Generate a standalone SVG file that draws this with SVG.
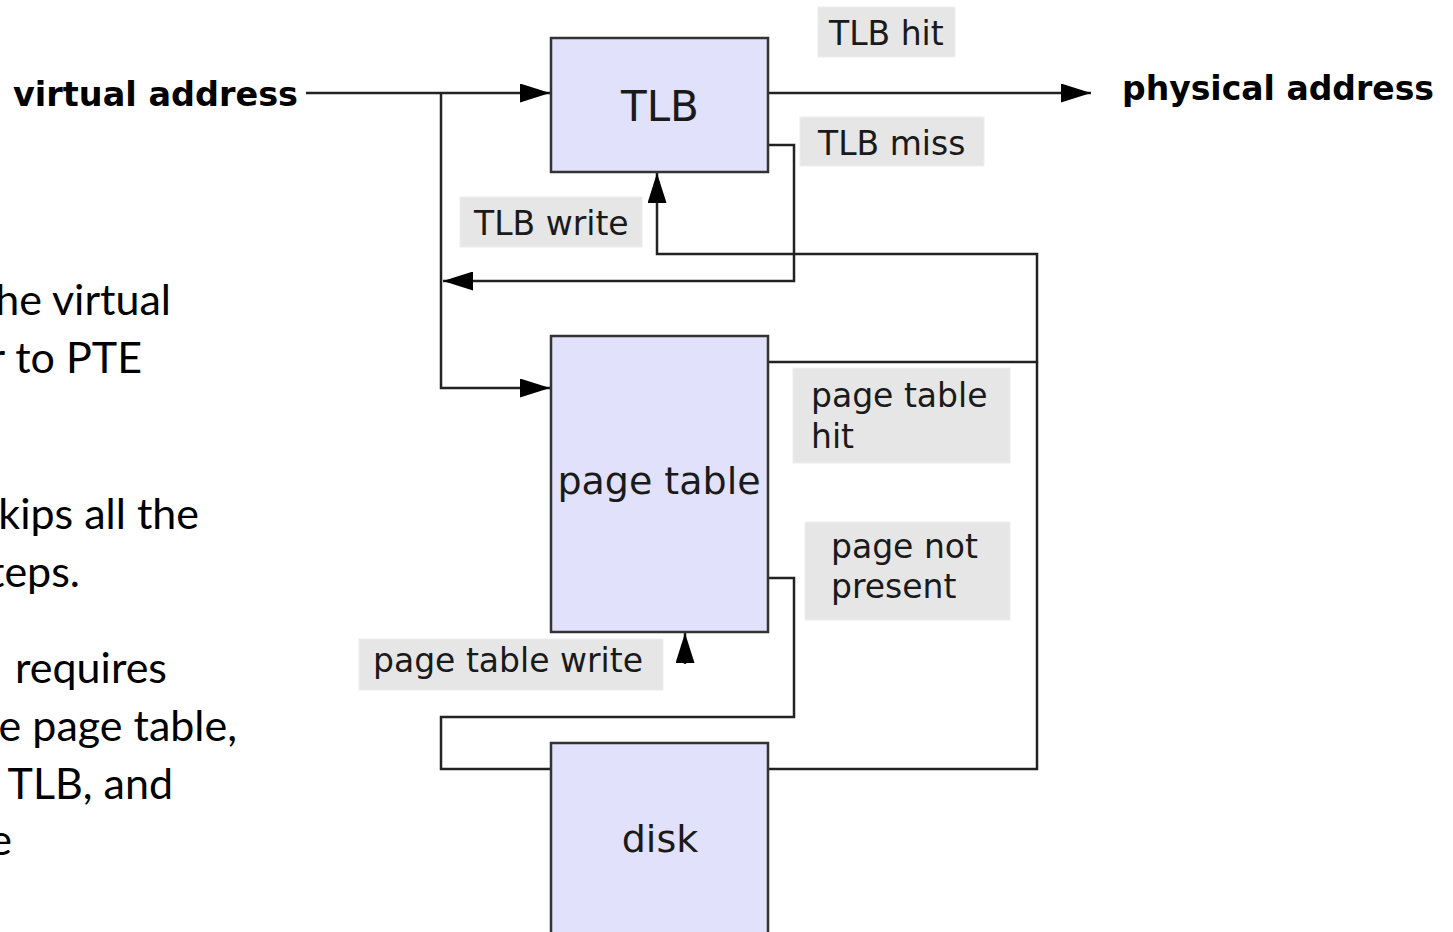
<svg xmlns="http://www.w3.org/2000/svg" width="1453" height="932" viewBox="0 0 1453 932">
  <style>
    .box { fill: #e1e1fb; stroke: #333333; stroke-width: 2.5; }
    .tag { fill: #e6e6e6; stroke: #eeeeee; stroke-width: 1; }
    .wire { fill: none; stroke: #222222; stroke-width: 2.5; }
    .sans { font-family: "DejaVu Sans", "Bitstream Vera Sans", sans-serif; fill: #1a1a1a; }
    .big { font-size: 38px; text-anchor: middle; }
    .small { font-size: 33px; }
    .bold { font-size: 33.5px; font-weight: bold; fill: #000000; }
    .note { font-family: Lato, "Open Sans", "Liberation Sans", sans-serif; font-size: 43px; fill: #000000; text-anchor: end; }
  </style>
  <defs>
    <marker id="arrow" markerUnits="userSpaceOnUse" markerWidth="31" markerHeight="19" refX="30" refY="9.5" orient="auto">
      <path d="M0,0 L30,9.5 L0,19 z" fill="#000000"/>
    </marker>
  </defs>

  <rect width="1453" height="932" fill="#ffffff"/>

  <!-- explanatory notes, running in from the left edge -->
  <g id="notes">
    <text class="note" x="171" y="315">he virtual</text>
    <text class="note" x="142" y="373">r to PTE</text>
    <text class="note" x="199" y="529">kips all the</text>
    <text class="note" x="80" y="587">teps.</text>
    <text class="note" x="167" y="683">requires</text>
    <text class="note" x="237" y="741">e page table,</text>
    <text class="note" x="173" y="799">TLB, and</text>
    <text class="note" x="12" y="855">e</text>
  </g>

  <!-- connectors -->
  <g id="connectors">
    <path class="wire" d="M306,93 H550" marker-end="url(#arrow)"/>
    <path class="wire" d="M441,93 V388 H550" marker-end="url(#arrow)"/>
    <path class="wire" d="M768,93 H1091" marker-end="url(#arrow)"/>
    <path class="wire" d="M768,145 H794 V281 H443" marker-end="url(#arrow)"/>
    <path class="wire" d="M768,362 H1037 V254 H657 V173" marker-end="url(#arrow)"/>
    <path class="wire" d="M768,769 H1037 V362"/>
    <path class="wire" d="M768,578 H794 V717 H441 V769 H551"/>
    <path class="wire" d="M685,664 V633" marker-end="url(#arrow)"/>
  </g>

  <!-- endpoints -->
  <g id="virtual-address">
    <text class="sans bold" x="13" y="106" textLength="285" lengthAdjust="spacingAndGlyphs">virtual address</text>
  </g>
  <g id="physical-address">
    <text class="sans bold" x="1122" y="100" textLength="312" lengthAdjust="spacingAndGlyphs">physical address</text>
  </g>

  <!-- nodes -->
  <g id="tlb">
    <rect class="box" x="551" y="38" width="217" height="134"/>
    <text class="sans big" x="660" y="121" style="font-size:42px">TLB</text>
  </g>
  <g id="page-table">
    <rect class="box" x="551" y="336" width="217" height="296"/>
    <text class="sans big" x="659" y="494">page table</text>
  </g>
  <g id="disk">
    <rect class="box" x="551" y="743" width="217" height="200"/>
    <text class="sans big" x="660" y="852">disk</text>
  </g>

  <!-- edge labels -->
  <g id="label-tlb-hit">
    <rect class="tag" x="818" y="7" width="137" height="50"/>
    <text class="sans small" x="829" y="45">TLB hit</text>
  </g>
  <g id="label-tlb-miss">
    <rect class="tag" x="800" y="117" width="184" height="49"/>
    <text class="sans small" x="818" y="155">TLB miss</text>
  </g>
  <g id="label-tlb-write">
    <rect class="tag" x="460" y="197" width="182" height="50"/>
    <text class="sans small" x="474" y="235">TLB write</text>
  </g>
  <g id="label-page-table-hit">
    <rect class="tag" x="793" y="368" width="217" height="95"/>
    <text class="sans small" x="811" y="407">page table</text>
    <text class="sans small" x="811" y="448">hit</text>
  </g>
  <g id="label-page-not-present">
    <rect class="tag" x="805" y="522" width="205" height="98"/>
    <text class="sans small" x="831" y="558">page not</text>
    <text class="sans small" x="831" y="598">present</text>
  </g>
  <g id="label-page-table-write">
    <rect class="tag" x="359" y="639" width="304" height="51"/>
    <text class="sans small" x="373" y="672">page table write</text>
  </g>
</svg>
